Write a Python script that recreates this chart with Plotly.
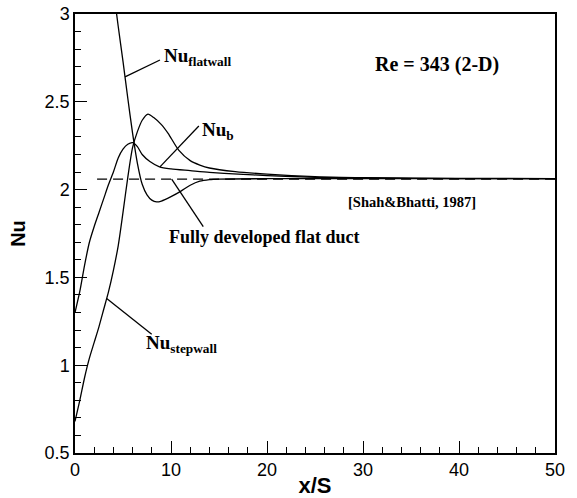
import numpy as np
import plotly.graph_objects as go

# ---- data ----
x_flat = [0.3, 1, 2, 3, 4, 4.5, 5, 5.5, 6, 6.5, 7, 7.5, 8, 8.5, 9, 10, 11, 12, 13, 14, 15, 20, 30, 40, 50]
nu_flat = [6.5, 5.2, 4.2, 3.55, 3.14, 2.93, 2.73, 2.52, 2.32, 2.15, 2.03, 1.97, 1.94, 1.93, 1.935, 1.96, 1.99, 2.025, 2.048, 2.057, 2.06, 2.062, 2.062, 2.062, 2.062]

x_b = [0, 0.5, 1, 1.5, 2, 2.5, 3, 3.5, 4, 4.5, 5, 5.5, 6, 6.5, 7, 7.8, 8.8, 10, 12, 14, 17, 20, 25, 30, 40, 50]
nu_b = [1.30, 1.42, 1.57, 1.70, 1.79, 1.87, 1.95, 2.03, 2.10, 2.18, 2.23, 2.258, 2.267, 2.245, 2.20, 2.16, 2.13, 2.118, 2.108, 2.098, 2.088, 2.08, 2.07, 2.066, 2.063, 2.062]

x_step = [0, 0.5, 1, 1.5, 2, 2.5, 3, 3.5, 4, 4.5, 5, 5.5, 6, 6.5, 7, 7.6, 8.2, 9, 9.7, 10.8, 12, 13, 14, 16.7, 20, 25, 30, 40, 50]
nu_step = [0.68, 0.80, 0.93, 1.04, 1.13, 1.22, 1.32, 1.42, 1.54, 1.68, 1.87, 2.07, 2.24, 2.33, 2.395, 2.43, 2.41, 2.37, 2.32, 2.225, 2.165, 2.14, 2.123, 2.102, 2.088, 2.074, 2.068, 2.064, 2.063]

x_fd = [2.3, 50]
nu_fd = [2.06, 2.06]

x_ticks = [0, 10, 20, 30, 40, 50]
y_ticks = [0.5, 1, 1.5, 2, 2.5, 3]

SERIF = "Liberation Serif"
SANS = "Liberation Sans"

fig = go.Figure()
line = dict(color="black", width=1.3, shape="spline", smoothing=0.7)
fig.add_trace(go.Scatter(x=x_flat, y=nu_flat, mode="lines", line=line, showlegend=False))
fig.add_trace(go.Scatter(x=x_b, y=nu_b, mode="lines", line=line, showlegend=False))
fig.add_trace(go.Scatter(x=x_step, y=nu_step, mode="lines", line=line, showlegend=False))
fig.add_trace(go.Scatter(x=x_fd, y=nu_fd, mode="lines",
                         line=dict(color="black", width=1.3, dash="10px,6px"), showlegend=False))

def on(xs, ys, x):
    return float(np.interp(x, xs, ys))

def leader(x0, y0, x1, y1):
    fig.add_shape(type="line", xref="x", yref="y", x0=x0, y0=y0, x1=x1, y1=y1,
                  line=dict(color="black", width=1.3))

leader(5.21, on(x_flat, nu_flat, 5.21), 8.85, 2.738)
leader(8.85, on(x_b, nu_b, 8.85), 12.9, 2.362)
leader(10.07, nu_fd[0], 13.36, 1.789)
leader(3.3, on(x_step, nu_step, 3.3), 7.99, 1.176)

def label(x, y, text, size):
    fig.add_annotation(x=x, y=y, xref="x", yref="y", text=text, showarrow=False,
                       xanchor="left", yanchor="middle",
                       font=dict(family=SERIF, size=size, color="black"))

label(9.06, 2.755, "<b>Nu<sub>flatwall</sub></b>", 19)
label(13.0, 2.334, "<b>Nu<sub>b</sub></b>", 19)
label(9.58, 1.73, "<b>Fully developed flat duct</b>", 18)
label(28.2, 1.93, "<b>[Shah&Bhatti, 1987]</b>", 14.5)
label(7.19, 1.121, "<b>Nu<sub>stepwall</sub></b>", 19)
label(31.0, 2.71, "<b>Re = 343 (2-D)</b>", 20)

axis_common = dict(
    showline=True, linecolor="black", linewidth=1.5, mirror=True,
    ticks="inside", ticklen=12, tickwidth=1.3, tickcolor="black",
    showgrid=False, zeroline=False, automargin=False,
    tickfont=dict(family=SANS, size=18, color="black"),
)
fig.update_xaxes(range=[0, 50], tickvals=x_ticks, ticktext=[str(v) for v in x_ticks],
                 minor=dict(dtick=2, ticklen=6, tickwidth=1.3, tickcolor="black", ticks="inside"),
                 title=dict(text="<b>x/S</b>", font=dict(family=SANS, size=22, color="black"), standoff=8),
                 **axis_common)
fig.update_yaxes(range=[0.5, 3], tickvals=y_ticks, ticktext=[f"{v:g}" for v in y_ticks],
                 minor=dict(dtick=0.1, ticklen=6, tickwidth=1.3, tickcolor="black", ticks="inside"),
                 title=dict(text="<b>Nu</b>", font=dict(family=SANS, size=20, color="black"), standoff=14),
                 **axis_common)
fig.update_layout(width=577, height=498, margin=dict(l=75, r=22, t=14, b=45),
                  plot_bgcolor="white", paper_bgcolor="white")
fig.write_html("out.html")
